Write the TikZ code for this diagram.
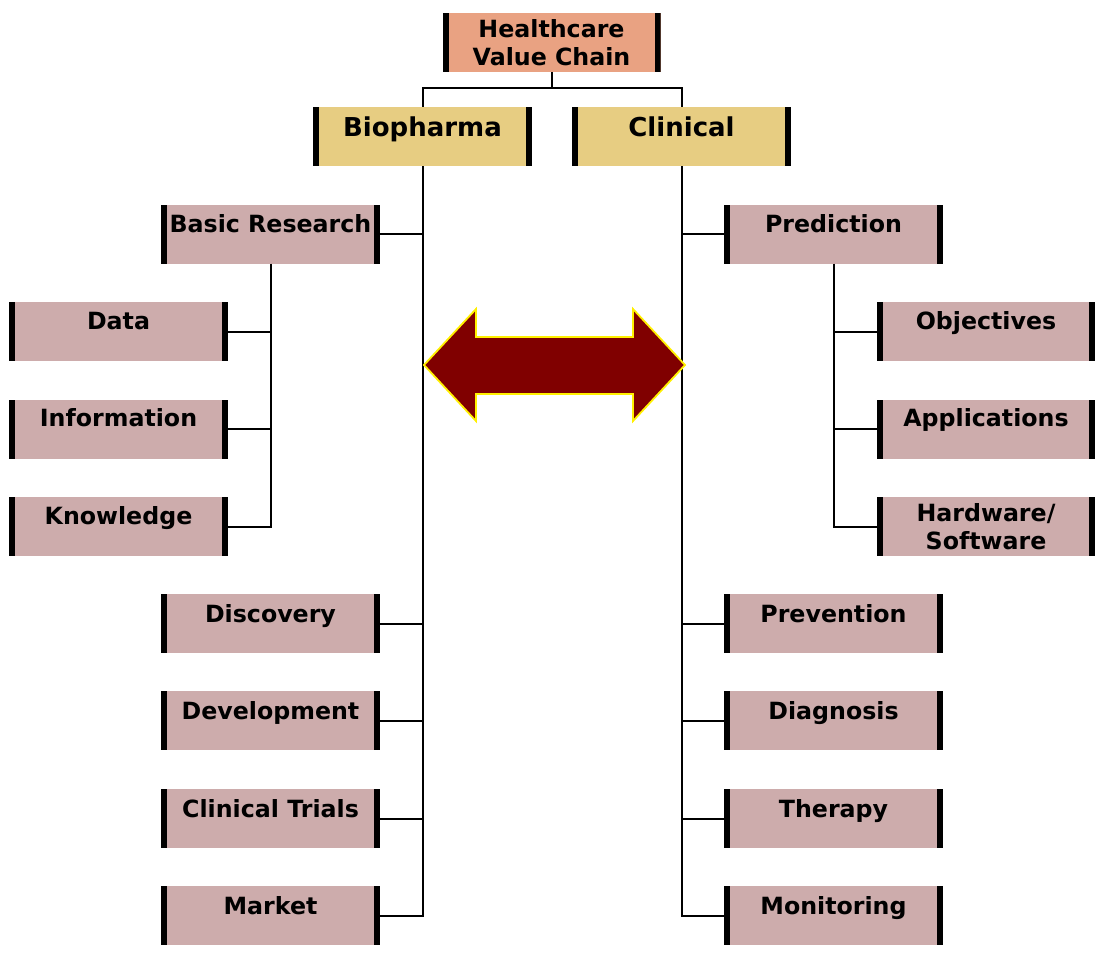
\documentclass[tikz,border=0pt]{standalone}
\usepackage{fontspec}
\newfontfamily\lblfont{DejaVu Sans}
\definecolor{rose}{RGB}{205,172,172}
\definecolor{khaki}{RGB}{231,205,130}
\definecolor{salmon}{RGB}{233,162,130}
\definecolor{wine}{RGB}{128,0,0}
\definecolor{gold}{RGB}{255,240,0}
\tikzset{
  bars/.style={path picture={
    \fill[black] (path picture bounding box.north west) rectangle ([xshift=6pt]path picture bounding box.south west);
    \fill[black] ([xshift=-6pt]path picture bounding box.north east) rectangle (path picture bounding box.south east);}},
  box/.style={rectangle, inner sep=0pt, minimum width=219pt, minimum height=59pt,
    align=center, bars, fill=rose,
    font=\lblfont\bfseries\fontsize{23.7}{28.5}\selectfont},
  oneline/.style={text height=28pt, text depth=31pt},
  branch/.style={box, fill=khaki, oneline,
    font=\lblfont\bfseries\fontsize{26}{30}\selectfont, text height=29pt, text depth=30pt},
  link/.style={line width=2pt, black},
  bigarrow/.style={fill=wine, draw=gold, line width=1.8pt, line join=miter}
}
\begin{document}
\begin{tikzpicture}[x=1pt, y=-1pt]
\useasboundingbox (0,0) rectangle (1096,956);

% root and the two branches
\node[box, fill=salmon, minimum width=218pt, yshift=-3pt] (root) at (551.5,39.5) {Healthcare\\Value Chain};
\node[branch] (bio) at (422.5,136.5) {Biopharma};
\node[branch] (cli) at (681.5,136.5) {Clinical};

% biopharma stages
\node[box, oneline] (basic) at (270.5,234) {Basic Research};
\node[box, oneline, text height=27pt, text depth=32pt] (data) at (118.5,331.5) {Data};
\node[box, oneline, text height=27pt, text depth=32pt] (info) at (118.5,429) {Information};
\node[box, oneline, text height=27pt, text depth=32pt] (know) at (118.5,526.5) {Knowledge};
\node[box, oneline] (disc) at (270.5,623.5) {Discovery};
\node[box, oneline] (devel) at (270.5,720.5) {Development};
\node[box, oneline] (trials) at (270.5,818.5) {Clinical Trials};
\node[box, oneline] (market) at (270.5,915.5) {Market};

% clinical stages
\node[box, oneline] (pred) at (833.5,234) {Prediction};
\node[box, oneline, minimum width=218pt, text height=27pt, text depth=32pt] (obj) at (986,331.5) {Objectives};
\node[box, oneline, minimum width=218pt, text height=27pt, text depth=32pt] (apps) at (986,429) {Applications};
\node[box, minimum width=218pt] (hw) at (986,526.5) {Hardware/\\Software};
\node[box, oneline] (prev) at (833.5,623.5) {Prevention};
\node[box, oneline] (diag) at (833.5,720.5) {Diagnosis};
\node[box, oneline] (ther) at (833.5,818.5) {Therapy};
\node[box, oneline] (monit) at (833.5,915.5) {Monitoring};

% root split
\coordinate (split) at (551.5,88);
\draw[link] (root.south) -- (split);
\draw[link] (bio.north) |- (split) -| (cli.north);

% biopharma trunk
\draw[link] (bio.south) |- (market.east);
\foreach \n in {basic,disc,devel,trials}
  \draw[link] (\n.east) -- (\n.east -| bio.south);
\draw[link] (basic.south) |- (know.east);
\foreach \n in {data,info}
  \draw[link] (\n.east) -- (\n.east -| basic.south);

% clinical trunk
\draw[link] (cli.south) |- (monit.west);
\foreach \n in {pred,prev,diag,ther}
  \draw[link] (\n.west) -- (\n.west -| cli.south);
\draw[link] (pred.south) |- (hw.west);
\foreach \n in {obj,apps}
  \draw[link] (\n.west) -- (\n.west -| pred.south);

% two-way arrow between the branches
\draw[bigarrow] (424,365) -- (476,309) -- (476,337) -- (633,337) -- (633,309)
  -- (685,365) -- (633,421) -- (633,394) -- (476,394) -- (476,421) -- cycle;
\end{tikzpicture}
\end{document}
